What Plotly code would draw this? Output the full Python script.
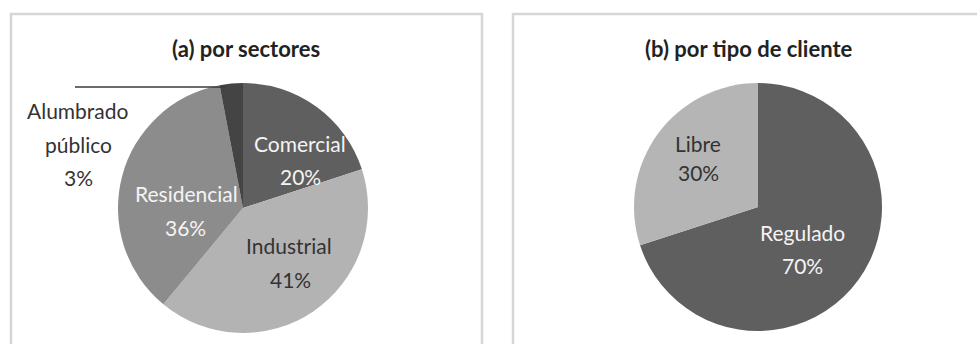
import plotly.graph_objects as go

W, H = 977, 344

# Data
sector_labels = ["Comercial", "Industrial", "Residencial", "Alumbrado público"]
sector_values = [20, 41, 36, 3]
sector_colors = ["#5f5f5f", "#b3b3b3", "#8c8c8c", "#444444"]

client_labels = ["Regulado", "Libre"]
client_values = [70, 30]
client_colors = ["#5f5f5f", "#b5b5b5"]

titles = ["(a) por sectores", "(b) por tipo de cliente"]


def px_x(x):
    return x / W


def px_y(y):
    return 1 - y / H


fig = go.Figure()

fig.add_trace(go.Pie(
    labels=sector_labels, values=sector_values, sort=False,
    direction="clockwise", rotation=0,
    marker=dict(colors=sector_colors, line=dict(width=0)),
    textinfo="none", hoverinfo="label+percent", showlegend=False,
    domain=dict(x=[px_x(118), px_x(368)], y=[px_y(333), px_y(83)]),
))

fig.add_trace(go.Pie(
    labels=client_labels, values=client_values, sort=False,
    direction="clockwise", rotation=0,
    marker=dict(colors=client_colors, line=dict(width=0)),
    textinfo="none", hoverinfo="label+percent", showlegend=False,
    domain=dict(x=[px_x(634), px_x(882)], y=[px_y(331), px_y(83)]),
))

FONT = "Lato"
LIGHT = "#f4f4f4"
DARK = "#333333"

annotations = []


def label(x, y, text, color, size=21, bold=False):
    annotations.append(dict(
        x=px_x(x), y=px_y(y), xref="paper", yref="paper",
        text=f"<b>{text}</b>" if bold else text, showarrow=False,
        xanchor="center", yanchor="middle",
        font=dict(family=FONT, size=size, color=color),
    ))


# titles
label(246, 48, titles[0], "#222222", size=22, bold=True)
label(748, 48, titles[1], "#222222", size=22, bold=True)


def pct(v):
    return f"{v}%"


# left pie labels (name + percent on separate lines)
label(300, 143, sector_labels[0], LIGHT)
label(300, 176, pct(sector_values[0]), LIGHT)
label(289, 245, sector_labels[1], DARK)
label(290, 279, pct(sector_values[1]), DARK)
label(186, 193, sector_labels[2], LIGHT)
label(185, 228, pct(sector_values[2]), LIGHT)
alum = sector_labels[3].split(" ")
label(78, 110, alum[0], DARK)
label(78, 144, alum[1], DARK)
label(78, 177, pct(sector_values[3]), DARK)

# right pie labels
label(802, 232, client_labels[0], LIGHT)
label(802, 265, pct(client_values[0]), LIGHT)
label(698, 143, client_labels[1], DARK)
label(698, 172, pct(client_values[1]), DARK)

shapes = [
    # panel borders
    dict(type="rect", xref="paper", yref="paper",
         x0=px_x(11), x1=px_x(482), y0=px_y(360), y1=px_y(14),
         line=dict(color="#d6d6d6", width=2.5), fillcolor="rgba(0,0,0,0)", layer="below"),
    dict(type="rect", xref="paper", yref="paper",
         x0=px_x(513), x1=px_x(995), y0=px_y(360), y1=px_y(14),
         line=dict(color="#d6d6d6", width=2.5), fillcolor="rgba(0,0,0,0)", layer="below"),
    # leader line for Alumbrado público
    dict(type="line", xref="paper", yref="paper",
         x0=px_x(75), x1=px_x(226), y0=px_y(87), y1=px_y(87),
         line=dict(color="#3a3a3a", width=1.5)),
]

fig.update_layout(
    width=W, height=H,
    margin=dict(l=0, r=0, t=0, b=0),
    paper_bgcolor="white", plot_bgcolor="white",
    annotations=annotations, shapes=shapes,
    font=dict(family=FONT),
)

fig.write_html("out.html")
